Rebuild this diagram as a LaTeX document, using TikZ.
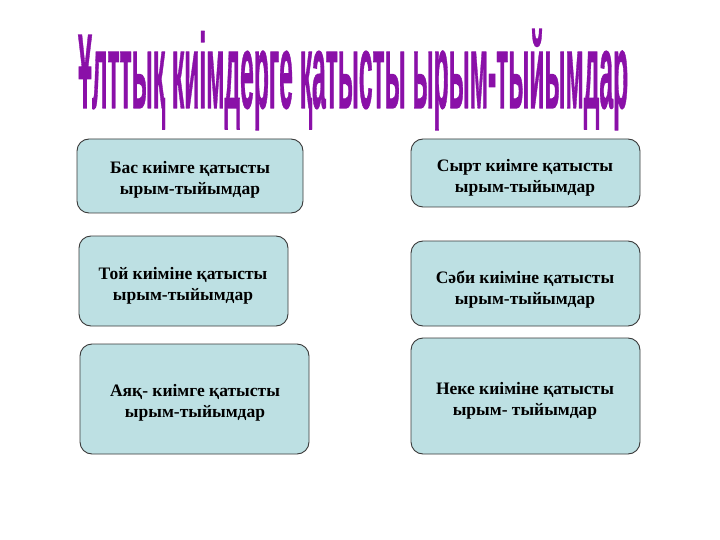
\documentclass[tikz,border=0pt]{standalone}
\usepackage{fontspec}
\setmainfont{Liberation Serif}
\newfontfamily\titlefont[FakeBold=1.2]{Liberation Sans Bold}
\definecolor{boxfill}{HTML}{BDE0E3}
\definecolor{boxline}{HTML}{3A3A3A}
\definecolor{titlepurple}{HTML}{8A10A8}
\begin{document}
\begin{tikzpicture}[x=1pt,y=-1pt,
  card/.style={draw=boxline, line width=0.9pt, fill=boxfill, rounded corners=12pt},
  cardtext/.style={align=center, font=\fontsize{17.5}{21}\selectfont\bfseries, text=black}]
\useasboundingbox (0,0) rectangle (720,540);
\fill[white] (0,0) rectangle (720,540);
% title
\node[anchor=base west, inner sep=0pt, text=titlepurple] (title) at (78,108)
  {\resizebox{550pt}{\height}{\titlefont\fontsize{106}{106}\selectfont Ұлттық киімдерге қатысты ырым-тыйымдар}};
% boxes
\draw[card] (77,139) rectangle (303,213);
\node[cardtext] (b1) at (190,180) {Бас киімге қатысты\\ырым-тыйымдар};
\draw[card] (79,236) rectangle (288,326);
\node[cardtext] (b2) at (183,286) {Той киіміне қатысты\\ырым-тыйымдар};
\draw[card] (80,344) rectangle (309,454);
\node[cardtext] (b3) at (195,403) {Аяқ- киімге қатысты\\ырым-тыйымдар};
\draw[card] (411,139) rectangle (640,207);
\node[cardtext] (b4) at (525,178) {Сырт киімге қатысты\\ырым-тыйымдар};
\draw[card] (411,241) rectangle (640,326);
\node[cardtext] (b5) at (525,290) {Сәби киіміне қатысты\\ырым-тыйымдар};
\draw[card] (411,338) rectangle (640,454);
\node[cardtext] (b6) at (525,401) {Неке киіміне қатысты\\ырым- тыйымдар};
\end{tikzpicture}
\end{document}
